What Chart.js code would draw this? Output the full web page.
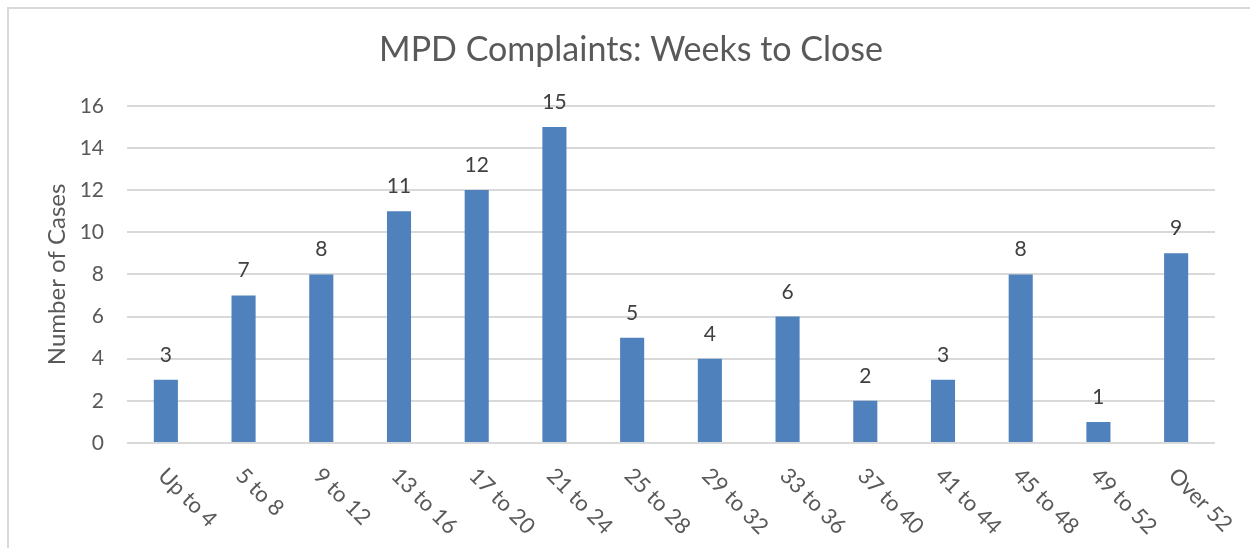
<!DOCTYPE html>
<html>
<head>
<meta charset="utf-8">
<script src="https://cdn.jsdelivr.net/npm/chart.js@4"></script>
<style>
  body { margin: 0; background: #fff; }
  #wrap { position: relative; width: 1250px; height: 548px; overflow: hidden; }
  #frame { position: absolute; left: 7px; top: 7px; width: 1300px; height: 600px;
           border-left: 2px solid #d9d9d9; border-top: 2px solid #d9d9d9; }
  #chart { position: absolute; left: 0; top: 0; }
</style>
</head>
<body>
<div id="wrap">
  <div id="frame"></div>
  <canvas id="chart" width="1250" height="548"></canvas>
</div>
<script>
// Weeks-to-close buckets and case counts
const categories = ['Up to 4', '5 to 8', '9 to 12', '13 to 16', '17 to 20', '21 to 24', '25 to 28',
    '29 to 32', '33 to 36', '37 to 40', '41 to 44', '45 to 48', '49 to 52', 'Over 52'];
const cases = [3, 7, 8, 11, 12, 15, 5, 4, 6, 2, 3, 8, 1, 9];
const yTicks = [0, 2, 4, 6, 8, 10, 12, 14, 16];

const FONT = 'Lato, "Open Sans", sans-serif';
const TEXT = '#595959';

// value labels above each bar
const valueLabels = {
    id: 'valueLabels',
    afterDatasetsDraw(chart) {
        const ctx = chart.ctx;
        const meta = chart.getDatasetMeta(0);
        ctx.save();
        ctx.font = '21px ' + FONT;
        ctx.fillStyle = '#404040';
        ctx.textAlign = 'center';
        ctx.textBaseline = 'alphabetic';
        meta.data.forEach((bar, i) => {
            ctx.fillText(String(cases[i]), bar.x, bar.y - 18);
        });
        ctx.restore();
    }
};

// x labels rotated 45 degrees, reading downward from the tick
const slantedLabels = {
    id: 'slantedLabels',
    afterDraw(chart) {
        const ctx = chart.ctx;
        const xScale = chart.scales.x;
        const bottom = chart.chartArea.bottom;
        ctx.save();
        ctx.font = '22px ' + FONT;
        ctx.fillStyle = TEXT;
        ctx.textAlign = 'left';
        ctx.textBaseline = 'alphabetic';
        categories.forEach((label, i) => {
            const x = xScale.getPixelForTick(i);
            ctx.save();
            ctx.translate(x - 9, bottom + 34);
            ctx.rotate(Math.PI / 4);
            ctx.fillText(label, 0, 0);
            ctx.restore();
        });
        ctx.restore();
    }
};

const ctx = document.getElementById('chart').getContext('2d');
new Chart(ctx, {
    type: 'bar',
    data: {
        labels: categories,
        datasets: [{
            label: 'Number of Cases',
            data: cases,
            backgroundColor: '#4f81bd',
            borderWidth: 0,
            barPercentage: 0.31,
            categoryPercentage: 1
        }]
    },
    options: {
        responsive: false,
        animation: false,
        layout: {
            padding: { left: 47, right: 35, top: 0, bottom: 0 }
        },
        scales: {
            x: {
                grid: { display: false },
                border: { display: false },
                ticks: { display: false },
                afterFit: function (scale) {
                    scale.height = 105;
                }
            },
            y: {
                min: 0,
                max: 16,
                afterBuildTicks: function (scale) {
                    scale.ticks = yTicks.map(v => ({ value: v }));
                },
                grid: {
                    color: '#d9d9d9',
                    lineWidth: 2,
                    drawTicks: false
                },
                border: { display: false },
                ticks: {
                    color: TEXT,
                    font: { family: FONT, size: 21 },
                    padding: 23
                },
                title: {
                    display: true,
                    text: 'Number of Cases',
                    color: TEXT,
                    font: { family: FONT, size: 24, lineHeight: 1 },
                    padding: { top: -2, bottom: 0 }
                },
                afterFit: function (scale) {
                    scale.width = 80;
                }
            }
        },
        plugins: {
            legend: { display: false },
            tooltip: { enabled: false },
            title: {
                display: true,
                text: 'MPD Complaints: Weeks to Close',
                color: TEXT,
                font: { family: FONT, size: 34, weight: 'normal' },
                padding: { top: 30, bottom: 35 }
            }
        }
    },
    plugins: [valueLabels, slantedLabels]
});
</script>
</body>
</html>
